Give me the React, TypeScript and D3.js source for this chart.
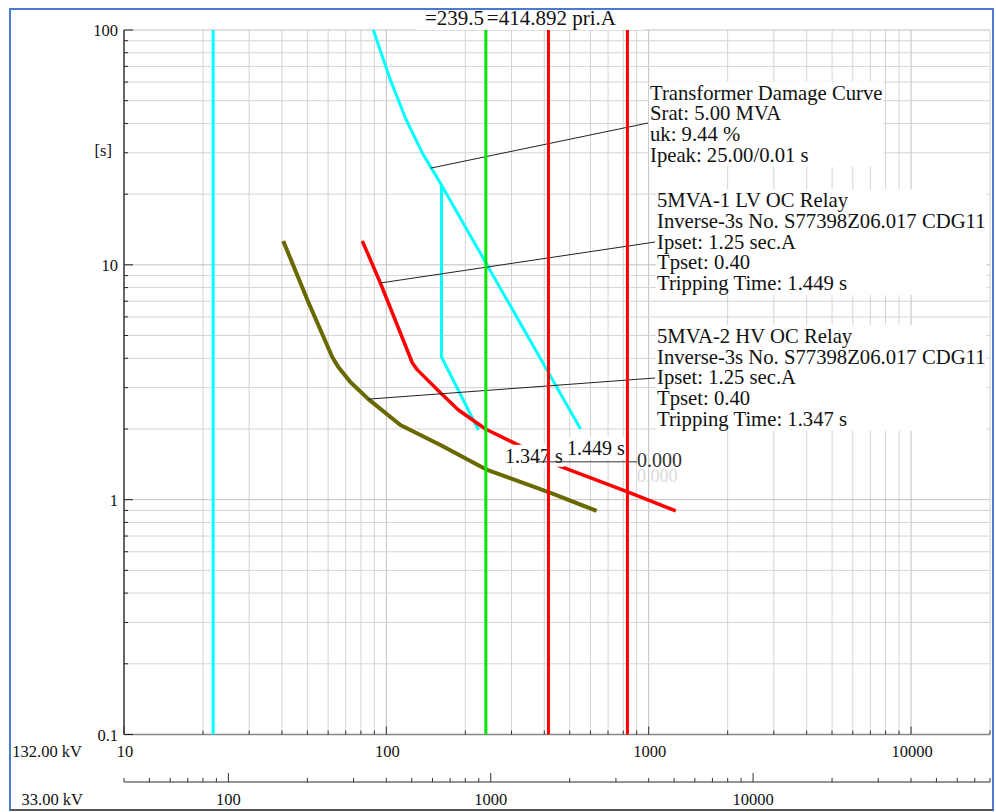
import React, { useEffect, useRef } from 'react';
import * as d3 from 'd3';

// currents in primary A (132 kV side), times in s
const markerCurrents = [21.87, 239.5, 414.892, 829.8];
const markerColors = ['#00ffff', '#00e600', '#ff0000', '#ff0000'];

// transformer damage curve (thermal part + mechanical step)
const damageThermalI = [89.2, 103.6, 118.2, 137.2, 162.2, 550];
const damageThermalT = [100, 61.3, 42.2, 29.9, 21.9, 2.0];
const damageMechI = [162.2, 162.2, 224.5];
const damageMechT = [21.9, 4.05, 1.98];

// 5MVA-1 LV OC relay (red)
const lvRelayI = [81.0, 94.9, 125.7, 131.3, 160.7, 188.3, 238.7, 324.7, 414.892, 831.4, 1268];
const lvRelayT = [12.64, 8.37, 3.82, 3.57, 2.85, 2.41, 2.0, 1.69, 1.449, 1.08, 0.895];

// 5MVA-2 HV OC relay (olive)
const hvRelayI = [40.45, 50.4, 62.2, 65.6, 72.9, 85.4, 113.1, 160.7, 239.5, 422.7, 633.2];
const hvRelayT = [12.64, 6.95, 4.05, 3.67, 3.17, 2.68, 2.08, 1.71, 1.347, 1.068, 0.895];

// where the label leaders touch the curves
const leaderI = [147.2, 94.9, 85.4];
const leaderT = [25.8, 8.37, 2.68];

const yTickLabels = [0.1, 1, 10, 100];
const xTickLabels = [10, 100, 1000, 10000];
const x33TickLabels = [100, 1000, 10000];

const damageLabel = ['Transformer Damage Curve', 'Srat: 5.00 MVA', 'uk: 9.44 %', 'Ipeak: 25.00/0.01 s'];
const lvLabel = ['5MVA-1 LV OC Relay', 'Inverse-3s No. S77398Z06.017 CDG11', 'Ipset: 1.25 sec.A', 'Tpset: 0.40', 'Tripping Time: 1.449 s'];
const hvLabel = ['5MVA-2 HV OC Relay', 'Inverse-3s No. S77398Z06.017 CDG11', 'Ipset: 1.25 sec.A', 'Tpset: 0.40', 'Tripping Time: 1.347 s'];

const W = 996;
const H = 812;
const FONT = '"Liberation Serif", "Times New Roman", serif';

const isDecade = (v: number) => Math.abs(Math.log10(v) - Math.round(Math.log10(v))) < 1e-6;

export default function App() {
  const svgRef = useRef<SVGSVGElement>(null);

  useEffect(() => {
    if (!svgRef.current) return;
    const svg = d3.select(svgRef.current);
    svg.selectAll('*').remove();

    const x = d3.scaleLog().domain([10, 20000]).range([124, 990]);
    const x33 = d3.scaleLog().domain([40, 80000]).range([124, 990]); // 33 kV side = 4x
    const y = d3.scaleLog().domain([0.1, 100]).range([734.5, 30]);
    const [yb, yt] = y.range();
    const [xl, xr] = x.range();

    svg.append('rect').attr('width', W).attr('height', H).attr('fill', '#fff');

    // grid
    const grid = svg.append('g').attr('stroke-width', 1);
    x.ticks().forEach(v => {
      grid.append('line')
        .attr('x1', x(v)).attr('x2', x(v)).attr('y1', yt).attr('y2', yb)
        .attr('stroke', isDecade(v) ? '#c0c0c0' : '#d4d4d4');
    });
    y.ticks().forEach(v => {
      grid.append('line')
        .attr('x1', xl).attr('x2', xr).attr('y1', y(v)).attr('y2', y(v))
        .attr('stroke', isDecade(v) ? '#c0c0c0' : '#d4d4d4');
    });

    // axes
    const ax = svg.append('g');
    ax.append('line').attr('x1', xl).attr('x2', xl).attr('y1', yt).attr('y2', yb)
      .attr('stroke', '#666').attr('stroke-width', 2);
    ax.append('line').attr('x1', xl).attr('x2', xr).attr('y1', yb).attr('y2', yb)
      .attr('stroke', '#888').attr('stroke-width', 1.5);
    y.ticks().forEach(v => {
      ax.append('line').attr('x1', xl).attr('x2', xl + (isDecade(v) ? 9 : 4))
        .attr('y1', y(v)).attr('y2', y(v)).attr('stroke', '#222').attr('stroke-width', 1);
    });
    x.ticks().forEach(v => {
      ax.append('line').attr('x1', x(v)).attr('x2', x(v))
        .attr('y1', yb).attr('y2', yb - (isDecade(v) ? 8 : 4)).attr('stroke', '#333').attr('stroke-width', 1);
    });

    const y33 = 782;
    ax.append('line').attr('x1', xl).attr('x2', xr).attr('y1', y33).attr('y2', y33)
      .attr('stroke', '#707070').attr('stroke-width', 1.5);
    x33.ticks().forEach(v => {
      ax.append('line').attr('x1', x33(v)).attr('x2', x33(v))
        .attr('y1', y33).attr('y2', y33 - (isDecade(v) ? 9 : 4)).attr('stroke', '#333').attr('stroke-width', 1);
    });

    const txt = svg.append('g').attr('font-family', FONT).attr('font-size', 16.5).attr('fill', '#111');
    yTickLabels.forEach(v => {
      txt.append('text').attr('x', 118).attr('y', y(v) + 6).attr('text-anchor', 'end').text(String(v));
    });
    txt.append('text').attr('x', 112).attr('y', 156).attr('text-anchor', 'end').text('[s]');
    xTickLabels.forEach(v => {
      txt.append('text').attr('x', x(v) + 1).attr('y', 757).attr('text-anchor', 'middle').text(String(v));
    });
    x33TickLabels.forEach(v => {
      txt.append('text').attr('x', x33(v)).attr('y', 805).attr('text-anchor', 'middle').text(String(v));
    });
    txt.append('text').attr('x', 82).attr('y', 757).attr('text-anchor', 'end').text('132.00 kV');
    txt.append('text').attr('x', 83).attr('y', 805).attr('text-anchor', 'end').text('33.00 kV');

    // curves
    const line = d3.line<[number, number]>().x(d => x(d[0])).y(d => y(d[1]));
    const curves = svg.append('g').attr('fill', 'none').attr('stroke-linejoin', 'round');
    const zip = (a: number[], b: number[]) => a.map((v, i) => [v, b[i]] as [number, number]);
    curves.append('path').attr('d', line(zip(damageThermalI, damageThermalT)))
      .attr('stroke', '#00ffff').attr('stroke-width', 3);
    curves.append('path').attr('d', line(zip(damageMechI, damageMechT)))
      .attr('stroke', '#00ffff').attr('stroke-width', 3);
    curves.append('path').attr('d', line(zip(lvRelayI, lvRelayT)))
      .attr('stroke', '#ff0000').attr('stroke-width', 3.5);
    curves.append('path').attr('d', line(zip(hvRelayI, hvRelayT)))
      .attr('stroke', '#696900').attr('stroke-width', 4);

    // leaders
    const leaderEnds = [[648, 123], [655, 242], [655, 378]];
    leaderI.forEach((v, i) => {
      svg.append('line').attr('x1', x(v)).attr('y1', y(leaderT[i]))
        .attr('x2', leaderEnds[i][0]).attr('y2', leaderEnds[i][1])
        .attr('stroke', '#222').attr('stroke-width', 1);
    });

    const block = (lines: string[], x0: number, y0: number, dy: number, size: number, pad = 1) => {
      const g = svg.append('g');
      const tg = g.append('g').attr('font-family', FONT).attr('font-size', size).attr('fill', '#111');
      lines.forEach((s, i) => tg.append('text').attr('x', x0).attr('y', y0 + i * dy).text(s));
      const bb = (tg.node() as SVGGElement).getBBox();
      g.insert('rect', ':first-child').attr('x', bb.x - pad).attr('y', bb.y)
        .attr('width', bb.width + 2 * pad).attr('height', bb.height).attr('fill', '#fff');
      return g;
    };

    block(damageLabel, 650, 99.5, 20.7, 20.7);
    block(lvLabel, 657, 207.3, 20.7, 20.7);
    block(hvLabel, 657, 343, 20.7, 20.7);

    // tripping-time marks
    block(['1.347 s'], 505, y(lvRelayT[8]) + 1, 0, 20);
    block(['1.449 s'], 567, 455, 0, 20);
    svg.append('line').attr('x1', x(414.892) - 11).attr('x2', 637)
      .attr('y1', y(lvRelayT[8])).attr('y2', y(lvRelayT[8]))
      .attr('stroke', '#333').attr('stroke-width', 1);
    svg.append('text').attr('x', 637).attr('y', 482).attr('font-family', FONT).attr('font-size', 18)
      .attr('fill', '#c4c4c4').attr('opacity', 0.6).text('0.000');
    svg.append('text').attr('x', 637).attr('y', 467).attr('font-family', FONT).attr('font-size', 20)
      .attr('fill', '#333').text('0.000');

    // current markers
    markerCurrents.forEach((v, i) => {
      svg.append('line').attr('x1', x(v)).attr('x2', x(v)).attr('y1', yt).attr('y2', yb)
        .attr('stroke', markerColors[i]).attr('stroke-width', 3);
    });

    // top labels
    svg.append('rect').attr('x', 415).attr('y', 9).attr('width', 70).attr('height', 21).attr('fill', '#fff');
    svg.append('text').attr('x', 425).attr('y', 25).attr('font-family', FONT).attr('font-size', 21)
      .attr('fill', '#111').text('=239.5');
    svg.append('rect').attr('x', x(239.5) - 2).attr('y', 9).attr('width', 160).attr('height', 21).attr('fill', '#fff');
    svg.append('text').attr('x', x(239.5) + 1).attr('y', 25).attr('font-family', FONT).attr('font-size', 21)
      .attr('fill', '#111').text('=414.892 pri.A');

    // frame
    svg.append('rect').attr('x', 10).attr('y', 9).attr('width', 983).attr('height', 801)
      .attr('fill', 'none').attr('stroke', '#4a7bd0').attr('stroke-width', 2);
    svg.append('line').attr('x1', 10).attr('x2', 993).attr('y1', 810).attr('y2', 810)
      .attr('stroke', '#555').attr('stroke-width', 2);
  }, []);

  return (
    <>
      <style>{'body{margin:0}'}</style>
      <svg ref={svgRef} width={W} height={H} style={{ display: 'block' }} />
    </>
  );
}
